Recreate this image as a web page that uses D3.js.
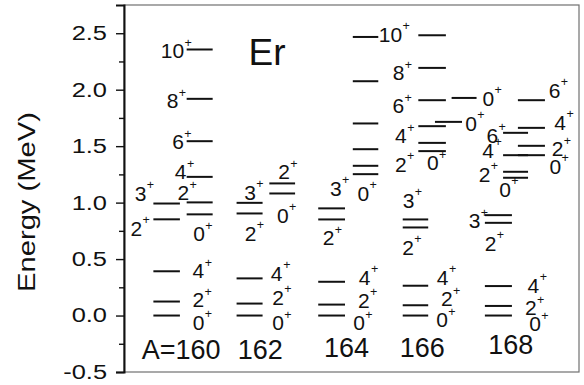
<!DOCTYPE html>
<html>
<head>
<meta charset="utf-8">
<script src="https://cdn.jsdelivr.net/npm/d3@7"></script>
<style>
  html, body { margin: 0; padding: 0; background: #fff; }
  svg { display: block; font-family: Arial, "Liberation Sans", Helvetica, sans-serif; }
</style>
</head>
<body>
<svg id="chart" width="584" height="385"></svg>
<script>
// Energy levels of even-even Er isotopes (MeV).
// Each band sits in its own column; columns are in abstract column units.
const nuclei = ["A=160", "162", "164", "166", "168"];

// band columns: [start, end] in column units
const bandColumns = {
  g160: [1.13, 2.15], u160: [2.41, 3.41],
  g162: [4.33, 5.33], r162: [5.59, 6.58],
  g164: [7.47, 8.50], u164: [8.80, 9.78],
  g166: [10.72, 11.70], u166: [11.32, 12.38],
  a168: [11.96, 13.00], b168: [12.60, 13.56],
  g168: [13.88, 14.92], c168: [14.58, 15.54], d168: [15.15, 16.19]
};

// level energies per band
const groundLevels = {
  g160: [0.000, 0.124, 0.392],
  g162: [0.000, 0.106, 0.329],
  g164: [0.000, 0.097, 0.299],
  g166: [0.000, 0.091, 0.264],
  g168: [0.000, 0.085, 0.261]
};
const gammaLevels = {
  g160: [0.852, 0.992],
  g162: [0.904, 0.998],
  g164: [0.851, 0.949],
  g166: [0.780, 0.851],
  g168: [0.821, 0.889]
};
const upperLevels = {
  u160: [0.896, 1.002, 1.228, 1.544, 1.919, 2.356],
  r162: [1.081, 1.170],
  u164: [1.252, 1.326, 1.473, 1.701, 2.075, 2.467],
  u166: [1.456, 1.529, 1.677, 1.907, 2.193, 2.482],
  a168: [1.715],
  b168: [1.927],
  c168: [1.220, 1.273, 1.420, 1.618],
  d168: [1.420, 1.503, 1.662, 1.907]
};

// spin labels: [spin, column, energy]
const spinLabels = [
  // 160
  ["10", 1.865, 2.345], ["8", 1.865, 1.902], ["6", 2.077, 1.539], ["4", 2.173, 1.274],
  ["2", 2.285, 1.089], ["0", 2.885, 0.724], ["3", 0.635, 1.082], ["2", 0.473, 0.772],
  ["4", 2.858, 0.396], ["2", 2.858, 0.140], ["0", 2.873, -0.059],
  // 162
  ["3", 4.846, 1.092], ["2", 4.865, 0.731], ["2", 6.154, 1.274], ["0", 6.108, 0.886],
  ["4", 5.873, 0.374], ["2", 5.923, 0.161], ["0", 5.923, -0.062],
  // 164
  ["3", 8.146, 1.129], ["2", 7.873, 0.691], ["4", 9.250, 0.341], ["2", 9.223, 0.137],
  ["0", 9.046, -0.062], ["0", 9.204, 1.082],
  // 164 / 166 upper
  ["10", 10.25, 2.492], ["8", 10.565, 2.152], ["6", 10.55, 1.857], ["4", 10.646, 1.592],
  ["2", 10.646, 1.340], ["0", 11.877, 1.355],
  // 166
  ["3", 10.95, 1.023], ["2", 10.923, 0.607], ["4", 12.25, 0.337], ["2", 12.415, 0.148],
  ["0", 12.231, -0.037],
  // 168
  ["0", 14.01, 1.926], ["0", 13.346, 1.702], ["6", 14.165, 1.599], ["4", 14.0, 1.466],
  ["2", 13.873, 1.252], ["0", 14.654, 1.119], ["6", 16.565, 1.995], ["4", 16.77, 1.712],
  ["2", 16.673, 1.477], ["0", 16.588, 1.322], ["3", 13.488, 0.839], ["2", 14.096, 0.640],
  ["4", 15.742, 0.270], ["2", 15.646, 0.071], ["0", 15.808, -0.074]
];

// mass-number labels: [text, column, energy]
const massLabels = [
  [nuclei[0], 2.20, -0.301], [nuclei[1], 5.242, -0.298], [nuclei[2], 8.558, -0.279],
  [nuclei[3], 11.473, -0.281], [nuclei[4], 14.877, -0.254]
];

const yTicks = [-0.5, 0.0, 0.5, 1.0, 1.5, 2.0, 2.5];
const yMinorTicks = [-0.25, 0.25, 0.75, 1.25, 1.75, 2.25];

const svg = d3.select("#chart");
const margin = { left: 124, right: 5, top: 5, bottom: 13 };
const W = 584, H = 385;
const ink = "#111";

const x = d3.scaleLinear().domain([0, 17.5]).range([margin.left, W - margin.right]);
const y = d3.scaleLinear().domain([-0.5, 2.75]).range([H - margin.bottom, margin.top]);

// frame
svg.append("rect")
  .attr("x", x(0)).attr("y", y(2.75))
  .attr("width", x(17.5) - x(0)).attr("height", y(-0.5) - y(2.75))
  .attr("fill", "none").attr("stroke", "#707070").attr("stroke-width", 1.2);

// left axis
const tickStretch = 1.27;
const yAxis = d3.axisLeft(y).tickValues(yTicks).tickSize(8).tickPadding(9)
  .tickFormat(d => d.toFixed(1));
const gy = svg.append("g").attr("transform", `translate(${x(0)},0)`).call(yAxis);
gy.select(".domain").attr("stroke", ink).attr("stroke-width", 2);
gy.selectAll(".tick line").attr("stroke", ink).attr("stroke-width", 1.4);
gy.selectAll(".tick text")
  .attr("font-size", 20).attr("fill", ink)
  .attr("x", -17 / tickStretch)
  .attr("transform", `scale(${tickStretch},1)`);
const gyMinor = svg.append("g").attr("transform", `translate(${x(0)},0)`)
  .call(d3.axisLeft(y).tickValues(yMinorTicks).tickSize(5).tickFormat(""));
gyMinor.select(".domain").remove();
gyMinor.selectAll(".tick line").attr("stroke", ink).attr("stroke-width", 1.4);

// axis title
svg.append("text")
  .attr("transform", "translate(35,202) rotate(-90)")
  .attr("text-anchor", "middle")
  .attr("font-size", 24).attr("fill", ink)
  .attr("textLength", 180).attr("lengthAdjust", "spacingAndGlyphs")
  .text("Energy (MeV)");

// level lines
const levelRows = [];
[groundLevels, gammaLevels, upperLevels].forEach(set => {
  Object.entries(set).forEach(([band, energies]) => {
    energies.forEach(e => levelRows.push({ band, e }));
  });
});
svg.append("g").selectAll("line").data(levelRows).join("line")
  .attr("x1", d => x(bandColumns[d.band][0]))
  .attr("x2", d => x(bandColumns[d.band][1]))
  .attr("y1", d => y(d.e)).attr("y2", d => y(d.e))
  .attr("stroke", ink).attr("stroke-width", 2);

// spin labels with superscript parity
const gl = svg.append("g").attr("fill", ink);
spinLabels.forEach(([spin, cx, e]) => {
  const t = gl.append("text")
    .attr("x", x(cx)).attr("y", y(e))
    .attr("text-anchor", "middle").attr("dy", "0.36em")
    .attr("font-size", 21).text(spin);
  const bb = t.node().getBBox();
  gl.append("text")
    .attr("x", bb.x + bb.width + 0.3).attr("y", y(e) - 4)
    .attr("font-size", 12.5).text("+");
});

// mass labels
svg.append("g").selectAll("text").data(massLabels).join("text")
  .attr("x", d => x(d[1])).attr("y", d => y(d[2]))
  .attr("text-anchor", "middle").attr("dy", "0.36em")
  .attr("font-size", 27).attr("fill", ink)
  .text(d => d[0]);

// element symbol
svg.append("text")
  .attr("x", x(5.5)).attr("y", y(2.34))
  .attr("text-anchor", "middle").attr("dy", "0.36em")
  .attr("font-size", 37).attr("fill", ink)
  .text("Er");
</script>
</body>
</html>
